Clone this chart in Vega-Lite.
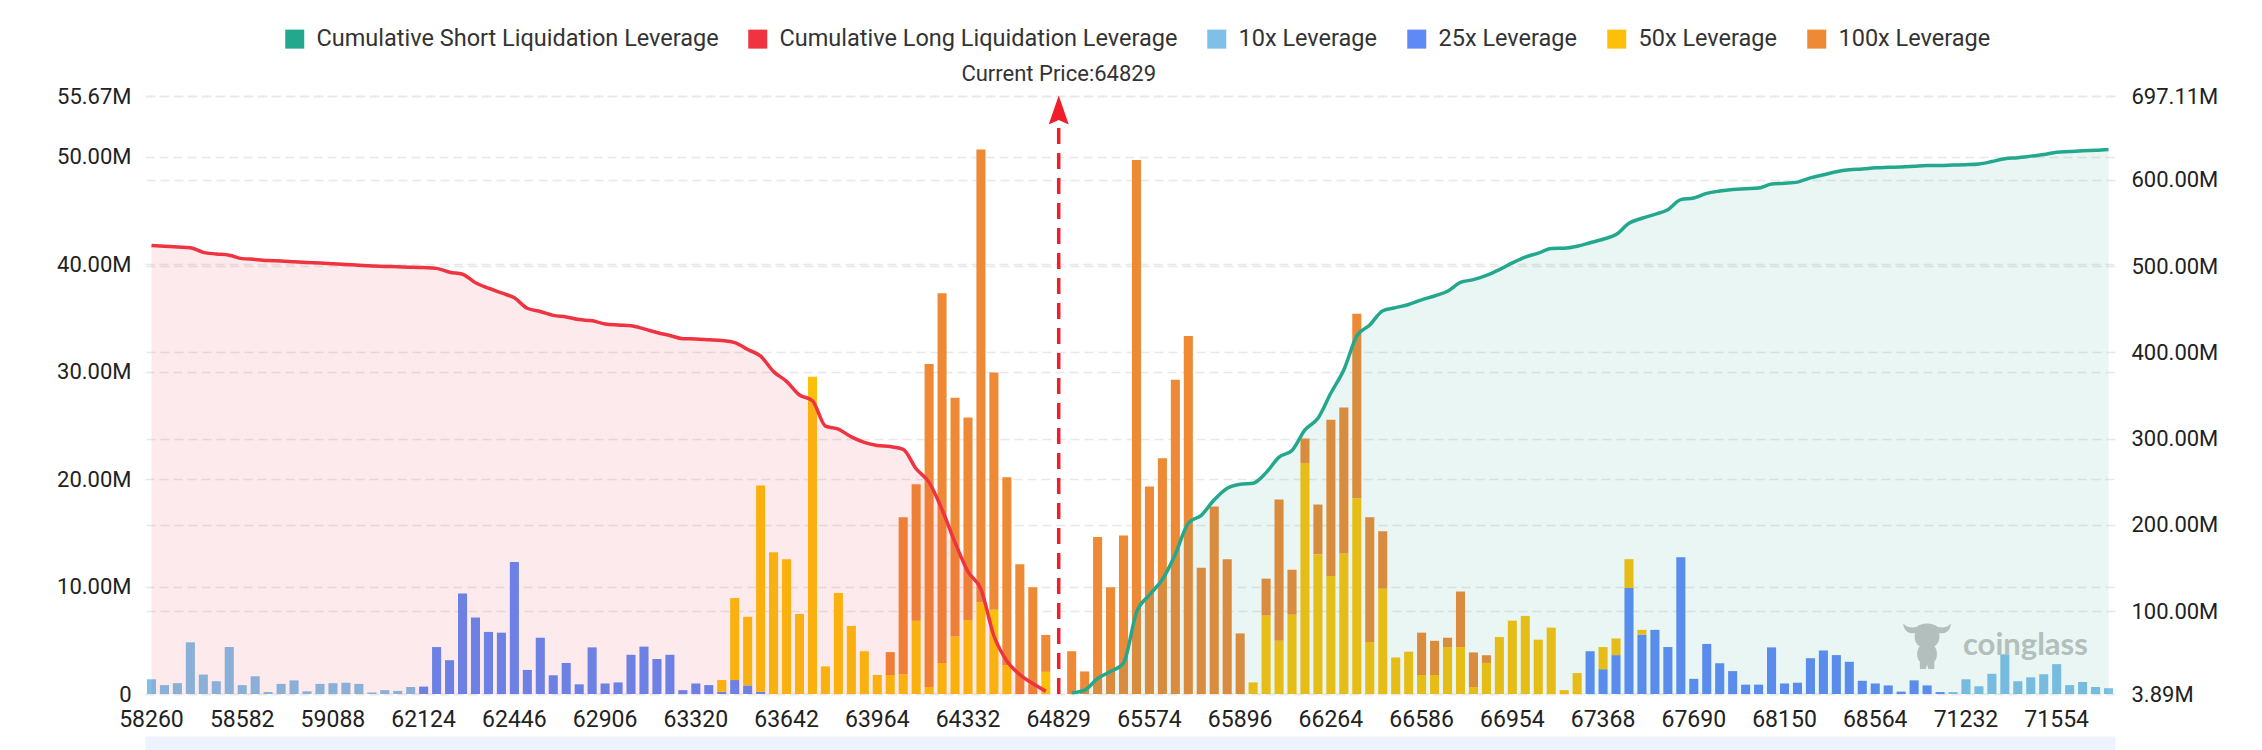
{
  "$schema": "https://vega.github.io/schema/vega-lite/v6.json",
  "width": 1970,
  "height": 598,
  "autosize": "none",
  "padding": {"left": 145, "top": 96, "right": 147, "bottom": 56},
  "background": "white",
  "config": {"view": {"stroke": null}, "font": "Roboto"},
  "datasets": {
    "liq": [
      {"p":58260,"a":1.37,"l":523.9},{"p":58301,"a":0.83,"l":523.0},{"p":58347,"a":1.01,"l":522.0},{"p":58399,"a":4.81,"l":521.2},
      {"p":58440,"a":1.81,"l":515.8},{"p":58491,"a":1.19,"l":514.0},{"p":58533,"a":4.37,"l":512.6},{"p":58582,"a":0.83,"l":508.6},
      {"p":58650,"a":1.66,"l":507.7},{"p":58728,"a":0.18,"l":506.3},{"p":58795,"a":0.94,"l":505.9},{"p":58870,"a":1.27,"l":505.0},
      {"p":58941,"a":0.25,"l":504.1},{"p":59019,"a":0.94,"l":503.6},{"p":59088,"a":1.01,"l":502.7},{"p":59160,"a":1.05,"l":501.8},
      {"p":59338,"a":0.94,"l":500.9},{"p":59521,"a":0.14,"l":500.0},{"p":60115,"a":0.36,"l":499.6},{"p":61247,"a":0.29,"l":499.1},
      {"p":61938,"a":0.65,"l":498.7},{"p":62124,"b":0.69,"l":498.2},{"p":62170,"b":4.37,"l":497.3},{"p":62216,"b":3.15,"l":492.8},
      {"p":62262,"b":9.36,"l":490.5},{"p":62308,"b":7.12,"l":480.6},{"p":62354,"b":5.78,"l":474.3},{"p":62400,"b":5.71,"l":468.9},
      {"p":62446,"b":12.29,"l":463.1},{"p":62512,"b":2.24,"l":451.0},{"p":62577,"b":5.24,"l":447.3},{"p":62643,"b":1.74,"l":442.8},
      {"p":62709,"b":2.89,"l":441.0},{"p":62774,"b":0.90,"l":437.9},{"p":62840,"b":4.34,"l":436.5},{"p":62906,"b":0.98,"l":432.9},
      {"p":62965,"b":1.08,"l":431.6},{"p":63024,"b":3.65,"l":430.7},{"p":63083,"b":4.41,"l":427.1},{"p":63142,"b":3.25,"l":423.0},
      {"p":63202,"b":3.65,"l":419.4},{"p":63261,"b":0.36,"l":415.8},{"p":63320,"b":0.98,"l":415.4},{"p":63366,"b":0.83,"l":414.5},
      {"p":63412,"b":0.20,"c":1.10,"l":413.6},{"p":63458,"b":1.30,"c":7.63,"l":411.3},{"p":63504,"b":0.80,"c":6.39,"l":403.2},
      {"p":63550,"b":0.22,"c":19.19,"l":395.6},{"p":63596,"c":13.2,"l":377.6},{"p":63642,"c":12.55,"l":366.3},{"p":63688,"c":7.45,"l":350.5},
      {"p":63734,"c":29.54,"l":343.8},{"p":63780,"c":2.57,"l":314.5},{"p":63826,"c":9.40,"l":310.9},{"p":63872,"c":6.33,"l":301.9},
      {"p":63918,"c":3.98,"l":295.6},{"p":63964,"c":1.77,"l":292.0},{"p":64016,"c":1.77,"d":2.13,"l":290.7},
      {"p":64069,"c":1.84,"d":14.61,"l":287.5},{"p":64121,"c":6.83,"d":12.69,"l":265.0},{"p":64174,"c":0.65,"d":30.08,"l":249.2},
      {"p":64227,"c":2.89,"d":34.42,"l":217.7},{"p":64279,"c":5.35,"d":22.24,"l":179.5},{"p":64332,"c":6.87,"d":18.87,"l":145.7},
      {"p":64403,"c":8.53,"d":42.16,"l":125.4},{"p":64474,"c":7.85,"d":22.08,"l":71.4},{"p":64545,"c":2.68,"d":17.49,"l":42.2},
      {"p":64616,"d":12.08,"l":26.4},{"p":64687,"d":9.94,"l":16.0},{"p":64758,"c":2.06,"d":3.44,"l":7.0},
      {"p":64829},
      {"p":64935,"d":3.98,"s":5.2},{"p":65042,"d":2.10,"s":8.4},{"p":65148,"d":14.61,"s":21.9},{"p":65255,"d":9.94,"s":30.0},
      {"p":65361,"d":14.75,"s":39.9},{"p":65468,"d":49.71,"s":98.5},{"p":65574,"d":19.31,"s":118.7},{"p":65620,"d":21.95,"s":136.7},
      {"p":65666,"d":29.25,"s":166.0},{"p":65712,"d":33.33,"s":202.0},{"p":65758,"d":11.75,"s":211.0},{"p":65804,"d":17.46,"s":229.0},
      {"p":65850,"d":12.55,"s":242.5},{"p":65896,"d":5.64,"s":247.0},{"p":65949,"c":1.08,"s":248.3},
      {"p":66001,"c":7.30,"d":3.44,"s":260.5},{"p":66054,"c":4.95,"d":13.16,"s":278.5},{"p":66106,"c":7.38,"d":4.19,"s":286.2},
      {"p":66159,"c":21.51,"d":2.28,"s":310.0},{"p":66211,"c":13.02,"d":4.62,"s":323.5},{"p":66264,"c":10.99,"d":14.53,"s":352.8},
      {"p":66310,"c":13.09,"d":13.59,"s":379.8},{"p":66356,"c":18.22,"d":17.17,"s":419.0},{"p":66402,"c":4.84,"d":11.61,"s":431.6},
      {"p":66448,"c":9.80,"d":5.35,"s":448.2},{"p":66494,"c":3.40,"s":451.8},{"p":66540,"c":3.94,"s":455.4},
      {"p":66586,"c":1.77,"d":3.94,"s":460.8},{"p":66639,"c":1.77,"d":3.18,"s":465.3},{"p":66691,"c":4.37,"d":0.87,"s":470.7},
      {"p":66744,"c":4.37,"d":5.17,"s":481.1},{"p":66796,"c":0.65,"d":3.22,"s":484.2},{"p":66849,"c":2.89,"d":0.72,"s":489.2},
      {"p":66901,"c":5.31,"s":495.9},{"p":66954,"c":6.83,"s":503.6},{"p":67013,"c":7.27,"s":510.4},{"p":67072,"c":5.06,"s":514.9},
      {"p":67131,"c":6.18,"s":520.3},{"p":67190,"c":0.36,"s":520.7},{"p":67250,"c":1.95,"s":523.0},{"p":67309,"b":3.98,"s":527.0},
      {"p":67368,"b":2.31,"c":2.06,"s":531.1},{"p":67414,"b":3.62,"c":1.55,"s":536.5},{"p":67460,"b":9.87,"c":2.68,"s":549.5},
      {"p":67506,"b":5.53,"c":0.44,"s":555.4},{"p":67552,"b":5.97,"s":559.9},{"p":67598,"b":4.37,"s":565.3},{"p":67644,"b":12.73,"s":577.0},
      {"p":67690,"b":1.41,"s":578.8},{"p":67756,"b":4.66,"s":584.2},{"p":67822,"b":2.86,"s":586.9},{"p":67888,"b":2.13,"s":588.7},
      {"p":67953,"b":0.87,"s":589.6},{"p":68019,"b":0.87,"s":590.5},{"p":68085,"b":4.34,"s":595.0},{"p":68150,"b":0.98,"s":595.9},
      {"p":68209,"b":1.05,"s":597.3},{"p":68268,"b":3.33,"s":602.2},{"p":68327,"b":4.05,"s":605.8},{"p":68387,"b":3.62,"s":609.4},
      {"p":68446,"b":3.00,"s":611.6},{"p":68505,"b":1.23,"s":612.5},{"p":68564,"b":0.98,"s":613.9},{"p":68610,"b":0.80,"s":614.4},
      {"p":68656,"b":0.22,"s":614.8},{"p":68748,"b":1.27,"s":615.7},{"p":68932,"b":0.80,"s":616.6},{"p":69898,"b":0.18,"s":616.6},
      {"p":70910,"a":0.18,"s":617.1},{"p":71232,"a":1.37,"s":617.5},{"p":71278,"a":0.72,"s":618.4},{"p":71324,"a":1.88,"s":621.1},
      {"p":71370,"a":3.69,"s":624.3},{"p":71416,"a":1.19,"s":625.6},{"p":71462,"a":1.55,"s":627.4},{"p":71508,"a":1.84,"s":629.2},
      {"p":71554,"a":2.78,"s":632.0},{"p":71600,"a":0.83,"s":632.8},{"p":71646,"a":1.12,"s":633.7},{"p":71692,"a":0.65,"s":634.2},
      {"p":71738,"a":0.54,"s":635.1}
    ]
  },
  "layer": [
    {
      "layer": [
        {
          "data": {"name": "liq"},
          "transform": [
            {"fold": ["a", "b", "c", "d"], "as": ["k", "v"]},
            {"filter": "datum.v > 0"}
          ],
          "mark": {"type": "bar"},
          "encoding": {
            "x": {
              "field": "p", "type": "ordinal", "title": null,
              "scale": {"paddingInner": 0.3, "paddingOuter": 0.15},
              "axis": {
                "orient": "bottom",
                "values": [58260, 58582, 59088, 62124, 62446, 62906, 63320, 63642, 63964, 64332, 64829, 65574, 65896, 66264, 66586, 66954, 67368, 67690, 68150, 68564, 71232, 71554],
                "labelAngle": 0, "labelFontSize": 23, "labelColor": "#222", "labelFont": "Roboto",
                "labelBaseline": "top",
                "ticks": false, "tickSize": 0, "grid": false, "labelOverlap": false,
                "domain": false, "labelPadding": 14
              }
            },
            "y": {
              "field": "v", "type": "quantitative", "stack": "zero", "title": null,
              "scale": {"domain": [0, 55.67], "nice": false, "zero": true},
              "axis": {
                "values": [0, 10, 20, 30, 40, 50, 55.67],
                "labelExpr": "datum.value == 0 ? '0' : format(datum.value, '.2f') + 'M'",
                "grid": true, "gridDash": [9, 5], "gridColor": "#e8e8e8", "gridWidth": 1.5,
                "domain": false, "ticks": false, "labelPadding": 14,
                "labelFontSize": 22, "labelColor": "#222", "labelFont": "Roboto"
              }
            },
            "color": {
              "field": "k", "type": "nominal",
              "scale": {
                "domain": ["S", "L", "a", "b", "c", "d"],
                "range": ["#23a88e", "#ef3340", "#80bfe8", "#5f8af6", "#fcc00a", "#ee8a35"]
              },
              "legend": {
                "orient": "none", "legendX": 138, "legendY": -69, "direction": "horizontal",
                "title": null, "padding": 0,
                "symbolType": "square", "symbolSize": 361, "symbolStrokeWidth": 0, "symbolOpacity": 1,
                "labelFontSize": 23.5, "labelFont": "Roboto", "labelColor": "#333",
                "labelOffset": 10, "columnPadding": 27, "labelLimit": 0,
                "labelExpr": "datum.label == 'S' ? 'Cumulative Short Liquidation Leverage' : datum.label == 'L' ? 'Cumulative Long Liquidation Leverage' : datum.label == 'a' ? '10x Leverage' : datum.label == 'b' ? '25x Leverage' : datum.label == 'c' ? '50x Leverage' : '100x Leverage'"
              }
            },
            "order": {"field": "k", "sort": "ascending"}
          }
        },
        {
          "data": {"values": [{"p": 64829}]},
          "mark": {"type": "rule", "color": "#f01d2b", "strokeWidth": 3.5, "strokeDash": [16, 9]},
          "encoding": {
            "x": {"field": "p", "type": "ordinal", "title": null},
            "y": {"datum": 0, "type": "quantitative"},
            "y2": {"datum": 52.97}
          }
        },
        {
          "data": {"values": [{"p": 64829}]},
          "mark": {"type": "point", "shape": "M0,-1L0.69,1L0,0.7L-0.69,1Z", "size": 841, "filled": true, "color": "#f01d2b", "opacity": 1},
          "encoding": {
            "x": {"field": "p", "type": "ordinal", "title": null},
            "y": {"datum": 54.37, "type": "quantitative"}
          }
        },
        {
          "data": {"values": [{"p": 64829, "t": "Current Price:64829"}]},
          "mark": {"type": "text", "fontSize": 22, "font": "Roboto", "color": "#333", "align": "center", "baseline": "middle"},
          "encoding": {
            "x": {"field": "p", "type": "ordinal", "title": null},
            "y": {"datum": 57.75, "type": "quantitative"},
            "text": {"field": "t"}
          }
        },
        {
          "data": {"values": [{"p": 68932}]},
          "mark": {"type": "point", "shape": "M-1,-0.9C-0.95,-0.55,-0.75,-0.45,-0.5,-0.5C-0.55,-0.3,-0.5,-0.05,-0.3,0.05C-0.45,0.2,-0.45,0.55,-0.3,0.7L-0.3,1L-0.05,1L0,0.8L0.05,1L0.3,1L0.3,0.7C0.45,0.55,0.45,0.2,0.3,0.05C0.5,-0.05,0.55,-0.3,0.5,-0.5C0.75,-0.45,0.95,-0.55,1,-0.9C0.8,-0.7,0.6,-0.72,0.45,-0.75C0.25,-0.95,-0.25,-0.95,-0.45,-0.75C-0.6,-0.72,-0.8,-0.7,-1,-0.9Z", "size": 2300, "filled": true, "color": "#c2c2c2", "opacity": 1, "dx": 4},
          "encoding": {
            "x": {"field": "p", "type": "ordinal", "title": null},
            "y": {"datum": 4.56, "type": "quantitative"}
          }
        },
        {
          "data": {"values": [{"p": 71232, "t": "coinglass"}]},
          "mark": {"type": "text", "fontSize": 31, "font": "Lato", "fontWeight": "bold", "color": "#c2c2c2", "align": "left", "baseline": "middle", "dx": -3},
          "encoding": {
            "x": {"field": "p", "type": "ordinal", "title": null},
            "y": {"datum": 4.47, "type": "quantitative"},
            "text": {"field": "t"}
          }
        }
      ]
    },
    {
      "data": {"name": "liq"},
      "layer": [
        {
          "transform": [{"filter": "isValid(datum.l)"}],
          "mark": {"type": "area", "color": "#ef3340", "fillOpacity": 0.1, "interpolate": "monotone"},
          "encoding": {
            "x": {
              "field": "p", "type": "ordinal", "title": null,
              "axis": {
                "orient": "bottom", "labels": false, "ticks": false, "grid": false,
                "domain": true, "domainColor": "#eef2fc", "domainWidth": 28, "offset": 56
              }
            },
            "y": {
              "field": "l", "type": "quantitative", "title": null,
              "scale": {"domain": [3.89, 697.11], "nice": false, "zero": false},
              "axis": {
                "orient": "right",
                "values": [3.89, 100, 200, 300, 400, 500, 600, 697.11],
                "labelExpr": "format(datum.value, '.2f') + 'M'",
                "grid": true, "gridDash": [9, 5], "gridColor": "#e8e8e8", "gridWidth": 1.5,
                "domain": false, "ticks": false, "labelPadding": 16,
                "labelFontSize": 22, "labelColor": "#222", "labelFont": "Roboto"
              }
            },
            "y2": {"datum": 3.89}
          }
        },
        {
          "transform": [{"filter": "isValid(datum.s)"}],
          "mark": {"type": "area", "color": "#23a88e", "fillOpacity": 0.1, "interpolate": "monotone"},
          "encoding": {
            "x": {"field": "p", "type": "ordinal", "title": null},
            "y": {"field": "s", "type": "quantitative", "title": null},
            "y2": {"datum": 3.89}
          }
        },
        {
          "transform": [{"filter": "isValid(datum.l)"}],
          "mark": {"type": "line", "color": "#ef3340", "strokeWidth": 3.5, "interpolate": "monotone"},
          "encoding": {
            "x": {"field": "p", "type": "ordinal", "title": null},
            "y": {"field": "l", "type": "quantitative", "title": null}
          }
        },
        {
          "transform": [{"filter": "isValid(datum.s)"}],
          "mark": {"type": "line", "color": "#23a88e", "strokeWidth": 3.5, "interpolate": "monotone"},
          "encoding": {
            "x": {"field": "p", "type": "ordinal", "title": null},
            "y": {"field": "s", "type": "quantitative", "title": null}
          }
        }
      ]
    }
  ],
  "resolve": {"scale": {"y": "independent"}, "axis": {"x": "independent", "y": "independent"}}
}
